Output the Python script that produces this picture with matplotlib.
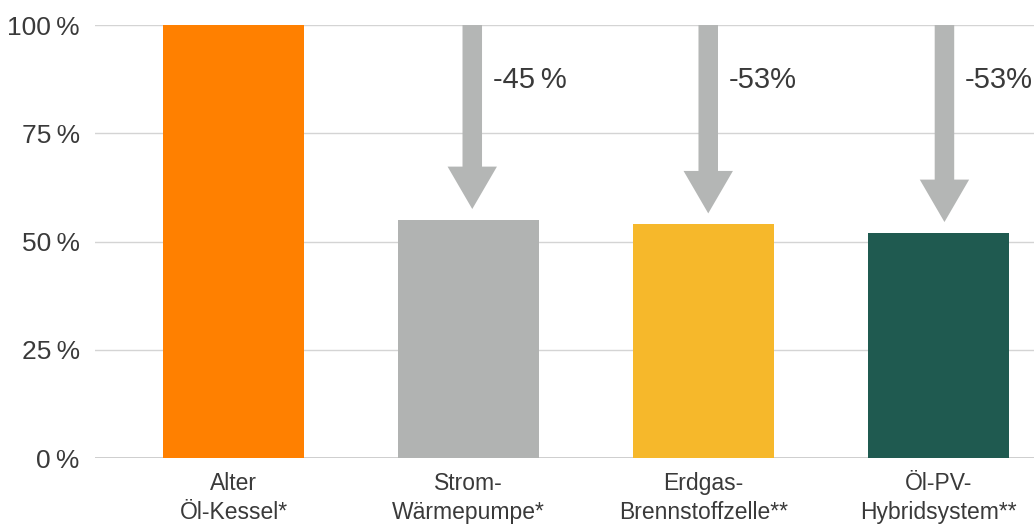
import matplotlib
matplotlib.use("Agg")
import matplotlib.pyplot as plt
from matplotlib.patches import FancyArrow

plt.rcParams['font.family'] = ['Liberation Sans', 'DejaVu Sans']

categories = ["Alter\nÖl-Kessel*", "Strom-\nWärmepumpe*", "Erdgas-\nBrennstoffzelle**", "Öl-PV-\nHybridsystem**"]
values = [100, 55, 54, 52]
colors = ["#FF8000", "#B1B3B2", "#F6B82B", "#1F5A50"]
reductions = [None, "-45\u2009%", "-53%", "-53%"]
yticks = [0, 25, 50, 75, 100]
yticklabels = ["0\u2009%", "25\u2009%", "50\u2009%", "75\u2009%", "100\u2009%"]

text_color = "#3a3a3a"
arrow_color = "#B4B6B5"

fig = plt.figure(figsize=(10.34, 5.30), dpi=100)
ax = fig.add_axes([0.0919, 0.1358, 0.9081, 0.8170])

x = list(range(len(categories)))
ax.bar(x, values, width=0.6, color=colors, zorder=3)

ax.set_xlim(-0.589, 3.406)
ax.set_ylim(0, 100)

ax.set_yticks(yticks)
ax.set_yticklabels(yticklabels, fontsize=19, color=text_color)
ax.yaxis.grid(True, color="#d4d4d4", linewidth=1.0, zorder=0)
ax.tick_params(axis='y', length=0, pad=11)
ax.set_xticks(x)
ax.set_xticklabels(categories, fontsize=16.5, color=text_color, linespacing=1.35)
ax.tick_params(axis='x', length=0, pad=10)
for s in ax.spines.values():
    s.set_visible(False)
ax.axhline(0, color="#c8c8c8", linewidth=1.2, zorder=2)

offsets = [0, 0.016, 0.02, 0.025]
for i, (v, r) in enumerate(zip(values, reductions)):
    if r is None:
        continue
    xc = i + offsets[i]
    tip = v + 2.5
    arr = FancyArrow(xc, 100, 0, tip - 100, width=0.083, head_width=0.21,
                     head_length=9.8, length_includes_head=True,
                     color=arrow_color, linewidth=0, zorder=4)
    ax.add_patch(arr)
    ax.text(xc + 0.088, 87.3, r, fontsize=21, color=text_color,
            ha='left', va='center', zorder=5)

fig.savefig("out.png", dpi=100)
